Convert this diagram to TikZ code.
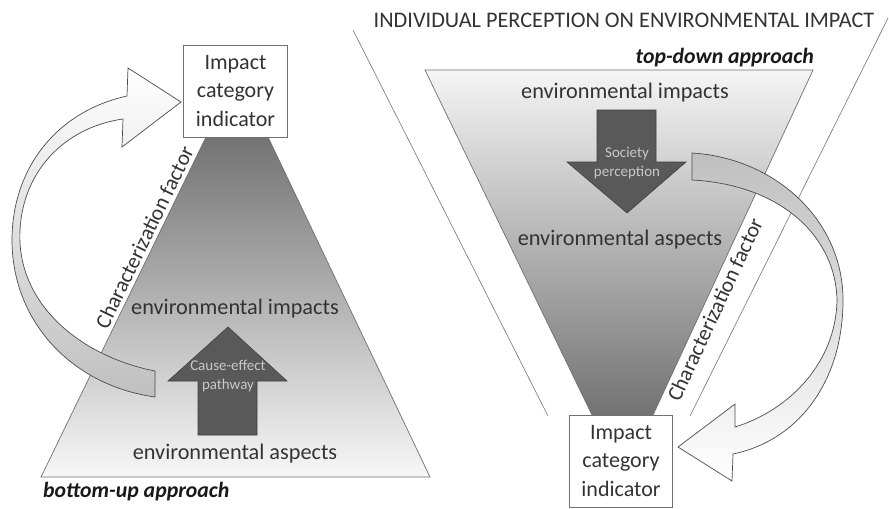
\documentclass[tikz,border=0pt]{standalone}
\usepackage{fontspec}
\setmainfont{Carlito}
\usetikzlibrary{positioning}
\definecolor{lineGray}{HTML}{707070}
\definecolor{arrowDark}{HTML}{595959}
\definecolor{arrowText}{HTML}{C8C8C8}
\definecolor{textDark}{HTML}{333333}
\tikzset{
  trap/.style={draw=lineGray, line width=0.6pt},
  funnel/.style={draw=lineGray, line width=0.5pt},
  catbox/.style={draw=lineGray, fill=white, line width=0.6pt,
    minimum width=31mm, minimum height=27.6mm, inner sep=0pt,
    align=center, font=\fontsize{18.8}{24}\selectfont, text=textDark},
  envtext/.style={font=\fontsize{19}{23}\selectfont, text=textDark},
  titletext/.style={font=\fontsize{19}{23}\selectfont, text=textDark},
  pathtext/.style={font=\fontsize{12.8}{16}\selectfont, text=arrowText, align=center},
  approach/.style={font=\fontsize{18.6}{22}\selectfont\bfseries\itshape, text=black!90},
  charfactor/.style={font=\fontsize{18.4}{22}\selectfont, text=textDark},
  ribbon/.style={draw=black!70, line width=0.6pt},
  bigarrow/.style={draw=black!75, fill=arrowDark, line width=0.5pt}
}

\begin{document}
\begin{tikzpicture}[x=0.3mm,y=-0.3mm]
  \useasboundingbox (0,0) rectangle (889,508);
  % funnel of individual perception
  \coordinate (fl1) at (353,30);  \coordinate (fl2) at (548,416);
  \coordinate (fr1) at (888,18);  \coordinate (fr2) at (690,416);
  \draw[funnel] (fl1) -- (fl2);
  \draw[funnel] (fr1) -- (fr2);
  \node[titletext] (title) at (624,20) {INDIVIDUAL PERCEPTION ON ENVIRONMENTAL IMPACT};

  % bottom-up trapezoid
  \coordinate (lbl) at (41,477);  \coordinate (lbr) at (430,477);
  \coordinate (ltr) at (268,137); \coordinate (ltl) at (206,137);
  \shadedraw[trap, top color=black!55, bottom color=black!3] (lbl) -- (lbr) -- (ltr) -- (ltl) -- cycle;
  \path (lbl) -- (ltl) node[charfactor, sloped, above, pos=0.69] (lcf) {Characterization factor};
  \node[envtext] (limp) at (235,309) {environmental impacts};
  \node[envtext] (lasp) at (235,454) {environmental aspects};
  \draw[bigarrow] (198,435) -- (198,381) -- (168,381) -- (228,327) -- (287,381) -- (257,381) -- (257,435) -- cycle;
  \node[pathtext] (cause) at (228,376) {Cause-effect\\pathway};
  \node[approach, anchor=west] (bup) at (39,492) {bottom-up approach};

  % top-down trapezoid
  \coordinate (rtl) at (425,70);  \coordinate (rtr) at (813,70);
  \coordinate (rbr) at (653,415); \coordinate (rbl) at (592,415);
  \shadedraw[trap, top color=black!4, bottom color=black!55] (rtl) -- (rtr) -- (rbr) -- (rbl) -- cycle;
  \path (rbr) -- (rtr) node[charfactor, sloped, below, pos=0.32] (rcf) {Characterization factor};
  \node[envtext] (rimp) at (625,93) {environmental impacts};
  \node[envtext] (rasp) at (620,240) {environmental aspects};
  \draw[bigarrow] (597,110) -- (656,110) -- (656,162) -- (686,162) -- (627,213) -- (567,162) -- (597,162) -- cycle;
  \node[pathtext] (society) at (627,163) {Society\\perception};
  \node[approach, anchor=east] (tdown) at (818,58) {top-down approach};

  % curved arrows
  \shadedraw[ribbon, top color=white, bottom color=black!25]
    (181,102) -- (128,68) -- (127,96)
    .. controls (55,112) and (12,170) .. (12,240)
    .. controls (12,320) and (70,385) .. (155,397)
    -- (155,371)
    .. controls (88,358) and (24,312) .. (20,243)
    .. controls (17,178) and (60,128) .. (123,119)
    -- (122,147) -- cycle;
  \shadedraw[ribbon, top color=black!25, bottom color=white]
    (678,447) -- (735,404) -- (735,427)
    .. controls (790,410) and (836,362) .. (837,300)
    .. controls (836,240) and (785,185) .. (692,180)
    -- (692,153)
    .. controls (775,158) and (843,220) .. (843,300)
    .. controls (843,380) and (800,440) .. (733,454)
    -- (732,481) -- cycle;

  % category indicators
  \node[catbox] (lbox) at (235.5,91) {Impact\\category\\indicator};
  \node[catbox] (rbox) at (621,461) {Impact\\category\\indicator};
\end{tikzpicture}
\end{document}
